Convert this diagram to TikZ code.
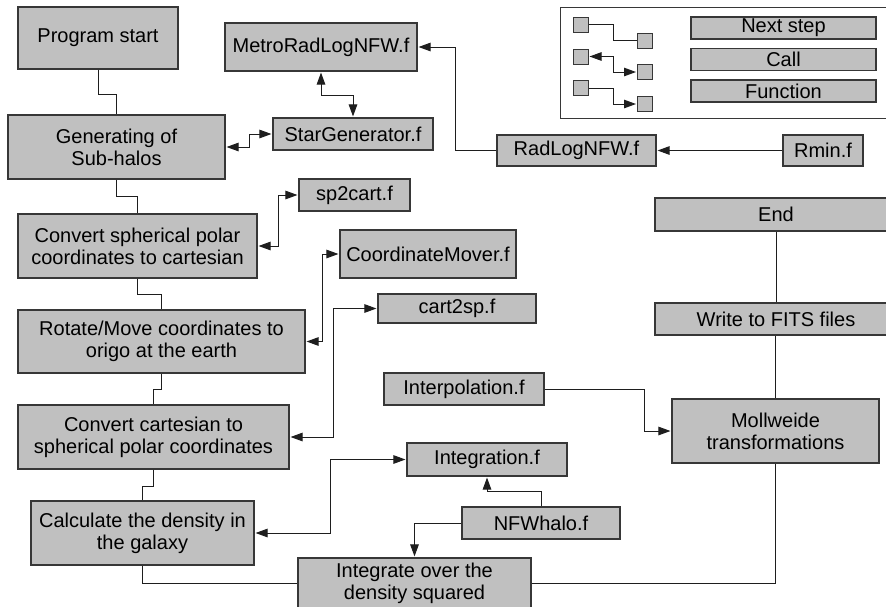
\documentclass[tikz,border=0pt]{standalone}
\usepackage{fontspec}
\setmainfont{Liberation Sans}
\usetikzlibrary{arrows.meta}
\definecolor{boxfill}{RGB}{192,192,192}
\definecolor{boxline}{RGB}{55,55,55}
\definecolor{linecol}{RGB}{30,30,30}
\begin{document}
\begin{tikzpicture}[x=1pt,y=-1pt,
  box/.style={draw=boxline, fill=boxfill, line width=1.1pt, inner sep=0pt, align=center,
    font=\fontsize{20}{22}\selectfont, text=black},
  sq/.style={draw=boxline, fill=boxfill, line width=1pt, inner sep=0pt, minimum width=15pt, minimum height=15pt},
  flow/.style={draw=linecol, line width=1pt},
  tip/.style={Triangle[length=12pt,width=8.5pt]},
  callc/.style={flow, {Triangle[length=12pt,width=8.5pt]}-{Triangle[length=12pt,width=8.5pt]}, shorten <=1pt, shorten >=1pt},
  func/.style={flow, -{Triangle[length=12pt,width=8.5pt]}, shorten >=1pt},
]
\useasboundingbox (0,0) rectangle (886,606);
\fill[white] (0,0) rectangle (886,606);

% main column
\node[box, minimum width=160pt, minimum height=62pt] (start) at (98,38) {Program start};
\node[box, minimum width=217pt, minimum height=64pt] (gen) at (116.5,147) {Generating of\\Sub-halos};
\node[box, minimum width=239pt, minimum height=64pt] (conv1) at (137.5,246) {Convert spherical polar\\coordinates to cartesian};
\node[box, minimum width=287pt, minimum height=63pt] (rot) at (161.5,341.5) {Rotate/Move coordinates to\\origo at the earth};
\node[box, minimum width=271pt, minimum height=64pt] (conv2) at (153.5,437) {Convert cartesian to\\spherical polar coordinates};
\node[box, minimum width=223pt, minimum height=64pt] (calc) at (142.5,533) {Calculate the density in\\the galaxy};
\node[box, minimum width=233pt, minimum height=50pt] (intsq) at (414.5,583) {Integrate over the\\density squared};

% functions
\node[box, minimum width=192pt, minimum height=48pt] (metro) at (321,47) {MetroRadLogNFW.f};
\node[box, minimum width=160pt, minimum height=32pt] (star) at (353,134) {StarGenerator.f};
\node[box, minimum width=159pt, minimum height=31pt] (rad) at (576.5,150.5) {RadLogNFW.f};
\node[box, minimum width=80pt, minimum height=31pt] (rmin) at (823,150.5) {Rmin.f};
\node[box, minimum width=111pt, minimum height=32pt] (sp2) at (354.5,195) {sp2cart.f};
\node[box, minimum width=176pt, minimum height=48pt] (cm) at (428,254) {CoordinateMover.f};
\node[box, minimum width=158pt, minimum height=29pt] (c2s) at (457,308.5) {cart2sp.f};
\node[box, minimum width=160pt, minimum height=32pt] (interp) at (464,389) {Interpolation.f};
\node[box, minimum width=160pt, minimum height=33pt] (integ) at (487,459.5) {Integration.f};
\node[box, minimum width=158pt, minimum height=32pt] (nfw) at (541,523) {NFWhalo.f};

% right column
\node[box, minimum width=242pt, minimum height=33pt] (end) at (776,214.5) {End};
\node[box, minimum width=242pt, minimum height=32pt] (write) at (776,319) {Write to FITS files};
\node[box, minimum width=207pt, minimum height=64pt] (moll) at (775.5,431) {Mollweide\\transformations};

% legend
\draw[draw=boxline, line width=1pt] (560,7) rectangle (892,118);
\node[sq] (r1a) at (580.5,24.5) {};
\node[sq] (r1b) at (645,40.5) {};
\node[sq] (r2a) at (580.5,56.5) {};
\node[sq] (r2b) at (645,72) {};
\node[sq] (r3a) at (580.5,88) {};
\node[sq] (r3b) at (645,104) {};
\node[box, minimum width=185pt, minimum height=22pt] (lnext) at (783.5,28) {Next step};
\node[box, minimum width=185pt, minimum height=22pt] (lcall) at (783.5,59.5) {Call};
\node[box, minimum width=185pt, minimum height=22pt] (lfunc) at (783.5,91) {Function};
\draw[flow] (r1a.east) -- ++(25,0) |- (r1b.west);
\draw[callc] (r2a.east) -- ++(25,0) |- (r2b.west);
\draw[func] (r3a.east) -- ++(25,0) |- (r3b.west);

% next steps
\draw[flow] (start.south) -- ++(0,25) -| (gen.north);
\draw[flow] (gen.south) -- ++(0,17) -| (conv1.north);
\draw[flow] (conv1.south) -- ++(0,16) -| (rot.north);
\draw[flow] (rot.south) -- ++(0,16) -| (conv2.north);
\draw[flow] (conv2.south) -- ++(0,17) -| (calc.north);
\draw[flow] (calc.south) |- (intsq.west);
\draw[flow] (intsq.east) -| (moll.south);
\draw[flow] (moll.north) -- (moll.north |- write.south);
\draw[flow] (write.north) -- (end.south);

% calls
\draw[callc] (metro.south) -- ++(0,24) -| (star.north);
\draw[callc] (gen.east) -- ++(24,0) |- (star.west);
\draw[callc] (conv1.east) -- ++(21,0) |- (sp2.west);
\draw[callc] (rot.east) -- ++(17,0) |- (cm.west);
\draw[callc] (conv2.east) -- ++(44,0) |- (c2s.west);
\draw[callc] (calc.east) -- ++(76,0) |- (integ.west);

% functions
\draw[func] (rad.west) -- ++(-41,0) |- (metro.east);
\draw[func] (rmin.west) -- (rad.east);
\draw[func] (interp.east) -- ++(100,0) |- (moll.west);
\draw[func] (nfw.north) -- ++(0,-15) -| (integ.south);
\draw[func] (nfw.west) -| (intsq.north);
\end{tikzpicture}
\end{document}
